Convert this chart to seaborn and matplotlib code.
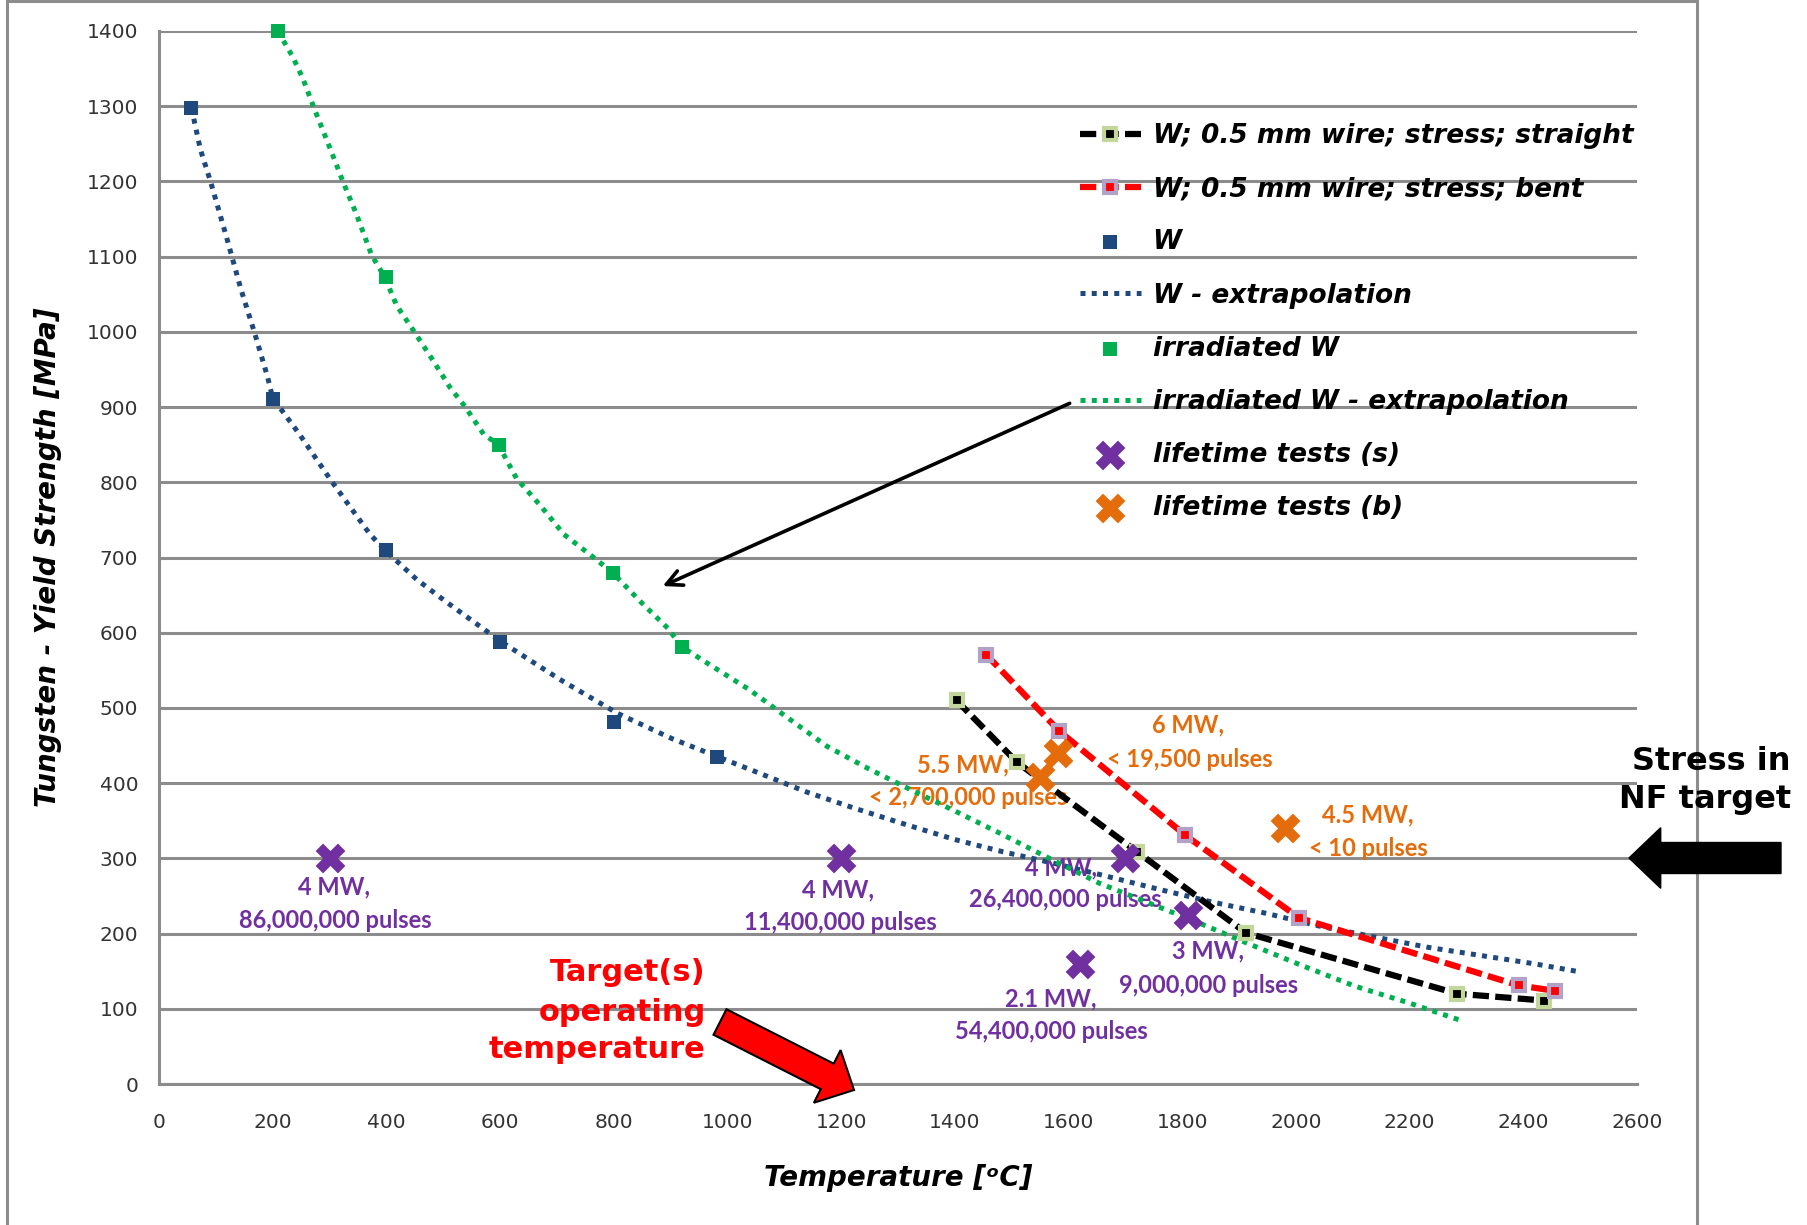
import matplotlib
matplotlib.use("Agg")
import matplotlib.pyplot as plt
import seaborn as sns
from matplotlib.patches import Polygon, Rectangle

# ---------------- data ----------------
STRAIGHT_T = [1403, 1509, 1720, 1912, 2284, 2436]
STRAIGHT_Y = [510, 428, 309, 201, 120, 111]

BENT_T = [1455, 1584, 1805, 2005, 2392, 2455]
BENT_Y = [571, 469, 331, 221, 131, 124]

W_T = [57, 200, 400, 600, 800, 982]
W_Y = [1298, 911, 710, 587, 481, 435]

W_EXT_T = [57, 73, 91, 118, 144, 168, 191, 200, 247, 303, 371, 400, 453, 507,
           602, 705, 806, 903, 983, 1057, 1140, 1222, 1305, 1400, 1483, 1571,
           1663, 1758, 1852, 1947, 2041, 2135, 2230, 2324, 2418, 2500]
W_EXT_Y = [1298, 1242, 1199, 1128, 1057, 999, 940, 912, 864, 802, 731, 708, 671, 640,
           588, 538, 493, 459, 435, 413, 388, 367, 347, 325, 309, 294,
           277, 259, 242, 227, 210, 196, 182, 171, 160, 149]

IRR_T = [209, 400, 598, 799, 920]
IRR_Y = [1400, 1073, 850, 679, 581]

IRR_EXT_T = [209, 235, 253, 273, 303, 324, 347, 374, 397, 418, 450, 482, 512, 538,
             571, 597, 629, 671, 712, 768, 799, 850, 895, 920, 974, 1039, 1104,
             1175, 1246, 1323, 1400, 1483, 1553, 1654, 1750, 1833, 1915, 2009,
             2104, 2198, 2292]
IRR_EXT_Y = [1400, 1366, 1337, 1297, 1240, 1199, 1157, 1102, 1073, 1035, 999, 962, 926, 901,
             864, 850, 805, 769, 731, 698, 679, 639, 606, 581, 555, 524, 488,
             449, 420, 391, 363, 332, 305, 267, 238, 213, 187, 158,
             130, 108, 84]

LIFE_S_T = [300, 1200, 1700, 1810, 1620]
LIFE_S_Y = [300, 300, 300, 225, 160]

LIFE_B_T = [1550, 1582, 1980]
LIFE_B_Y = [408, 440, 340]

SERIES_LABELS = ["W; 0.5 mm wire; stress; straight", "W; 0.5 mm wire; stress; bent",
                 "W", "W - extrapolation", "irradiated W",
                 "irradiated W - extrapolation", "lifetime tests (s)",
                 "lifetime tests (b)"]

S_TEXT = [("4 MW,", "86,000,000 pulses"), ("4 MW,", "11,400,000 pulses"),
          ("4 MW,", "26,400,000 pulses"), ("3 MW,", "9,000,000 pulses"),
          ("2.1 MW,", "54,400,000 pulses")]
B_TEXT = [("5.5 MW,", "< 2,700,000 pulses"), ("6 MW,", "< 19,500 pulses"),
          ("4.5 MW,", "< 10 pulses")]

X_TICKS = list(range(0, 2601, 200))
Y_TICKS = list(range(0, 1401, 100))

# ---------------- layout / styling ----------------
S_POS = [((308, 262), (310, 218)), ((1194, 258), (1198, 215)),
         ((1587, 287), (1595, 245)), ((1846, 177), (1846, 131)),
         ((1568, 113), (1570, 70))]
B_POS = [((1414, 424), (1423, 381)), ((1811, 478), (1814, 431)),
         ((2126, 358), (2128, 313))]

PURPLE = "#7030A0"
ORANGE = "#E46C0A"
BLUE = "#1F497D"
GREEN = "#00B050"
GRID = "#8c8c8c"

sns.set_theme(style="white")
plt.rcParams["font.family"] = ["DejaVu Sans"]

W_PX, H_PX = 1808, 1225
fig = plt.figure(figsize=(W_PX / 100, H_PX / 100), dpi=100)
ax = fig.add_axes([159 / W_PX, 1 - 1084 / H_PX, (1637 - 159) / W_PX, (1084 - 31) / H_PX])

dotted = (0, (1, 1.25))
dashed = (0, (2.6, 1.0))

sns.lineplot(x=W_EXT_T, y=W_EXT_Y, sort=False, estimator=None, color=BLUE, lw=3.6,
             linestyle=dotted, label=SERIES_LABELS[3], ax=ax, clip_on=False, zorder=3)
sns.lineplot(x=IRR_EXT_T, y=IRR_EXT_Y, sort=False, estimator=None, color=GREEN, lw=3.6,
             linestyle=dotted, label=SERIES_LABELS[5], ax=ax, clip_on=False, zorder=3)
sns.lineplot(x=STRAIGHT_T, y=STRAIGHT_Y, sort=False, estimator=None, color="black", lw=4.5,
             linestyle=dashed, marker="s", markersize=8.5, markerfacecolor="black",
             markeredgecolor="#C3D69B", markeredgewidth=3,
             label=SERIES_LABELS[0], ax=ax, clip_on=False, zorder=4)
sns.lineplot(x=BENT_T, y=BENT_Y, sort=False, estimator=None, color="#FF0000", lw=4.5,
             linestyle=dashed, marker="s", markersize=8.5, markerfacecolor="#FF0000",
             markeredgecolor="#B3A2C7", markeredgewidth=3,
             label=SERIES_LABELS[1], ax=ax, clip_on=False, zorder=4)
sns.scatterplot(x=W_T, y=W_Y, marker="s", s=95, color=BLUE, linewidth=0,
                label=SERIES_LABELS[2], ax=ax, clip_on=False, zorder=5)
sns.scatterplot(x=IRR_T, y=IRR_Y, marker="s", s=95, color=GREEN, linewidth=0,
                label=SERIES_LABELS[4], ax=ax, clip_on=False, zorder=5)
sns.scatterplot(x=LIFE_S_T, y=LIFE_S_Y, marker="X", s=460, color=PURPLE, linewidth=0,
                label=SERIES_LABELS[6], ax=ax, clip_on=False, zorder=6)
sns.scatterplot(x=LIFE_B_T, y=LIFE_B_Y, marker="X", s=460, color=ORANGE, linewidth=0,
                label=SERIES_LABELS[7], ax=ax, clip_on=False, zorder=6)

ax.set_xlim(0, 2600)
ax.set_ylim(0, 1400)
ax.set_xticks(X_TICKS)
ax.set_yticks(Y_TICKS)
ax.tick_params(axis="both", length=0, labelsize=14.5, labelcolor="#333333")
ax.tick_params(axis="x", pad=21)
ax.tick_params(axis="y", pad=15)
ax.yaxis.grid(True, color=GRID, lw=2.2)
ax.xaxis.grid(False)
ax.set_axisbelow(True)
for side in ("top", "right"):
    ax.spines[side].set_visible(False)
for side in ("left", "bottom"):
    ax.spines[side].set_color(GRID)
    ax.spines[side].set_linewidth(2.2)

ax.set_xlabel("Temperature [\u1d52C]", fontsize=20, fontweight="bold", fontstyle="italic",
              color="black")
ax.set_ylabel("Tungsten - Yield Strength [MPa]", fontsize=20, fontweight="bold",
              fontstyle="italic", color="black")
ax.xaxis.set_label_coords(0.5, -(1178 - 1084) / 1053)
ax.xaxis.label.set_va("center")
ax.yaxis.set_label_coords(-(159 - 48) / 1478, 0.5)
ax.yaxis.label.set_va("center")

# legend
handles, labels = ax.get_legend_handles_labels()
hmap = dict(zip(labels, handles))
leg = ax.legend([hmap[l] for l in SERIES_LABELS], SERIES_LABELS, loc="upper left",
                bbox_to_anchor=(1080 / W_PX, 1 - 123 / H_PX), bbox_transform=fig.transFigure,
                frameon=False, prop=dict(family="DejaVu Sans", weight="bold", style="italic", size=19),
                handlelength=2.3, handletextpad=0.45, labelspacing=1.03, borderpad=0,
                borderaxespad=0, numpoints=1, scatterpoints=1)
for t in leg.get_texts():
    t.set_color("black")

# annotation texts
for (l1, l2), ((x1, y1), (x2, y2)) in zip(S_TEXT, S_POS):
    ax.text(x1, y1, l1, ha="center", va="center", color=PURPLE, fontsize=17,
            fontweight="bold", family="Lato", zorder=2)
    ax.text(x2, y2, l2, ha="center", va="center", color=PURPLE, fontsize=17,
            fontweight="bold", family="Lato", zorder=2)
for (l1, l2), ((x1, y1), (x2, y2)) in zip(B_TEXT, B_POS):
    ax.text(x1, y1, l1, ha="center", va="center", color=ORANGE, fontsize=17,
            fontweight="bold", family="Lato", zorder=2)
    ax.text(x2, y2, l2, ha="center", va="center", color=ORANGE, fontsize=17,
            fontweight="bold", family="Lato", zorder=2)

for txt, yb in zip(["Target(s)", "operating", "temperature"], [137, 84, 34]):
    ax.text(962, yb, txt, ha="right", va="baseline", color="#FF0000", fontsize=22,
            fontweight="bold", zorder=7)

# thin black pointer arrow
ax.annotate("", xy=(886, 662), xytext=(1602, 905),
            arrowprops=dict(arrowstyle="->", lw=2.6, color="black", mutation_scale=28,
                            shrinkA=0, shrinkB=0), zorder=7)

# outer chart frame
fig.patches.append(Rectangle((7 / W_PX, -0.05), (1697 - 7) / W_PX, 1.05 - 1 / H_PX,
                             transform=fig.transFigure, fill=False, edgecolor=GRID,
                             lw=2.2, zorder=0))


def block_arrow(tail, tip, shaft_w, head_w, head_len):
    tx, ty = tail
    px, py = tip
    dx, dy = px - tx, py - ty
    L = (dx ** 2 + dy ** 2) ** 0.5
    ux, uy = dx / L, dy / L
    nx, ny = -uy, ux
    bx, by = px - ux * head_len, py - uy * head_len
    pts = [(tx + nx * shaft_w / 2, ty + ny * shaft_w / 2),
           (bx + nx * shaft_w / 2, by + ny * shaft_w / 2),
           (bx + nx * head_w / 2, by + ny * head_w / 2),
           (px, py),
           (bx - nx * head_w / 2, by - ny * head_w / 2),
           (bx - nx * shaft_w / 2, by - ny * shaft_w / 2),
           (tx - nx * shaft_w / 2, ty - ny * shaft_w / 2)]
    return [(x / W_PX, 1 - y / H_PX) for x, y in pts]


fig.patches.append(Polygon(block_arrow((720, 1022), (854, 1090), 28.6, 59, 30),
                           closed=True, facecolor="#FF0000", edgecolor="black", lw=1.5,
                           transform=fig.transFigure, zorder=8))
fig.patches.append(Polygon(block_arrow((1781, 858), (1629, 858), 31, 60.6, 31.7),
                           closed=True, facecolor="black", edgecolor="black", lw=1,
                           transform=fig.transFigure, zorder=8))

fig.text(1791 / W_PX, 1 - 770 / H_PX, "Stress in", ha="right", va="baseline",
         fontsize=23, fontweight="bold", color="black")
fig.text(1791 / W_PX, 1 - 808 / H_PX, "NF target", ha="right", va="baseline",
         fontsize=23, fontweight="bold", color="black")

fig.savefig("out.png", dpi=100, facecolor="white")
